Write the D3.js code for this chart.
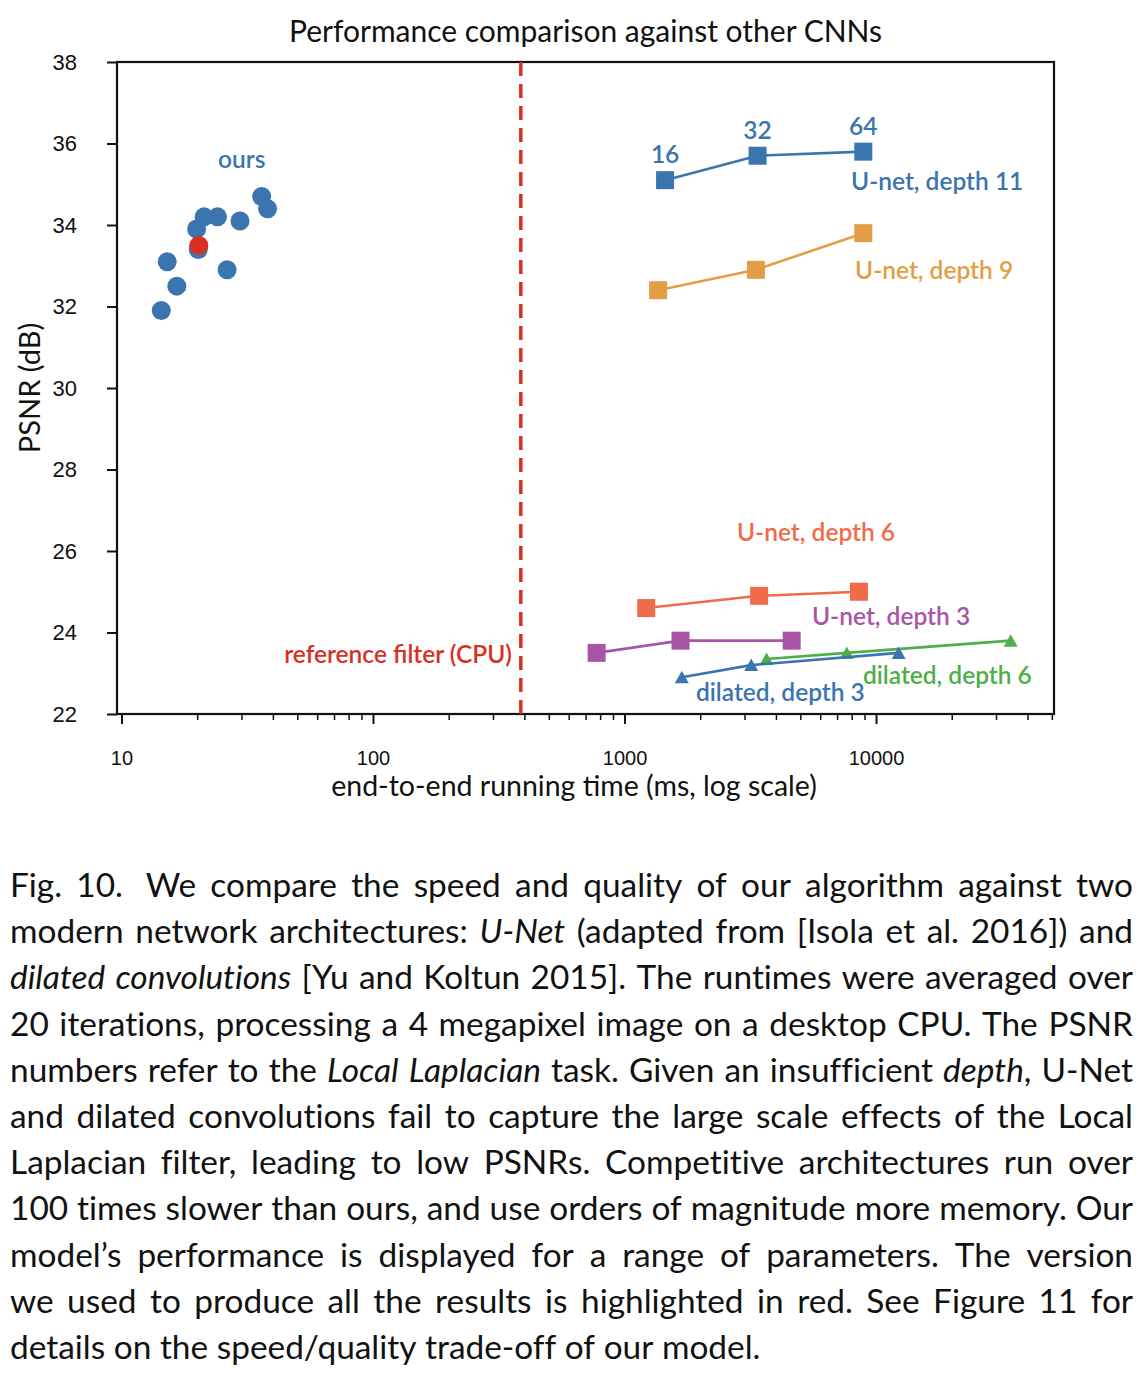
<!DOCTYPE html>
<html lang="en">
<head>
<meta charset="UTF-8">
<title>Performance comparison against other CNNs</title>
<script src="https://d3js.org/d3.v7.min.js"></script>
<style>
body { margin: 0; background: #fff; }
svg { font-family: Lato, "Open Sans", sans-serif; }
.tick text { fill: #111; }
.lbl { font-size: 24.5px; font-weight: 600; }
</style>
</head>
<body>
<svg id="chart" width="1144" height="1384"></svg>
<script>
// ours (bilateral grid variants), time in ms and PSNR in dB
const oursTime = [14.4, 15.2, 16.6, 19.9, 20.2, 21.3, 24.1, 26.3, 29.6, 36.1, 38.1];
const oursPsnr = [31.9, 33.1, 32.5, 33.9, 33.4, 34.2, 34.2, 32.9, 34.1, 34.7, 34.4];
const pickedTime = [20.3];
const pickedPsnr = [33.5];

const unet11Time = [1450, 3380, 8900];
const unet11Psnr = [35.1, 35.7, 35.8];
const unet9Time = [1360, 3330, 8900];
const unet9Psnr = [32.4, 32.9, 33.8];
const unet6Time = [1220, 3430, 8550];
const unet6Psnr = [24.6, 24.9, 25.0];
const unet3Time = [775, 1670, 4620];
const unet3Psnr = [23.5, 23.8, 23.8];
const dil3Time = [1690, 3190, 12300];
const dil3Psnr = [22.9, 23.2, 23.5];
const dil6Time = [3670, 7650, 34300];
const dil6Psnr = [23.35, 23.5, 23.8];

const widthLabels = ["16", "32", "64"];
const refTime = 387;

const yTicks = [22, 24, 26, 28, 30, 32, 34, 36, 38];
const xTicks = [10, 100, 1000, 10000];

// annotation anchors (data coords)
const annText = ["ours", "U-net, depth 11", "U-net, depth 9", "U-net, depth 6", "U-net, depth 3",
                 "dilated, depth 6", "dilated, depth 3", "reference filter (CPU)"];
const annTime = [30.1, 7955, 8250, 2800, 5565, 8870, 1923, 357];
const annPsnr = [35.4, 34.86, 32.67, 26.25, 24.18, 22.74, 22.32, 23.25];

const captionLines = [
  [["Fig. 10.  We compare the speed and quality of our algorithm against two", 0]],
  [["modern network architectures: ", 0], ["U-Net", 1], [" (adapted from [Isola et al. 2016]) and", 0]],
  [["dilated convolutions", 1], [" [Yu and Koltun 2015]. The runtimes were averaged over", 0]],
  [["20 iterations, processing a 4 megapixel image on a desktop CPU. The PSNR", 0]],
  [["numbers refer to the ", 0], ["Local Laplacian", 1], [" task. Given an insufficient ", 0], ["depth", 1], [", U-Net", 0]],
  [["and dilated convolutions fail to capture the large scale effects of the Local", 0]],
  [["Laplacian filter, leading to low PSNRs. Competitive architectures run over", 0]],
  [["100 times slower than ours, and use orders of magnitude more memory. Our", 0]],
  [["model\u2019s performance is displayed for a range of parameters. The version", 0]],
  [["we used to produce all the results is highlighted in red. See Figure 11 for", 0]],
  [["details on the speed/quality trade-off of our model.", 0]]
];

const blue = "#3a75b0", orange = "#e39e45", coral = "#ef6b4a", purple = "#a855a8",
      green = "#4daf4a", red = "#d7301f";

const svg = d3.select("#chart");
const margin = {left: 117, right: 90, top: 62, bottom: 670};
const W = 1144, H = 1384;
const plotW = W - margin.left - margin.right;
const plotH = H - margin.top - margin.bottom;

const x = d3.scaleLog().domain([9.6, 51000]).range([0, plotW]);
const y = d3.scaleLinear().domain([22, 38]).range([plotH, 0]);

const g = svg.append("g").attr("transform", `translate(${margin.left},${margin.top})`);

// title
svg.append("text").attr("x", margin.left + plotW / 2).attr("y", 42)
  .attr("text-anchor", "middle").style("font-size", "30px").attr("fill", "#111")
  .text("Performance comparison against other CNNs");

// axes
const minor = [];
for (let e = 1; e <= 4; e++) for (let k = 1; k <= 9; k++) {
  const v = k * Math.pow(10, e);
  if (v <= 51000 && k !== 1) minor.push(v);
}
g.append("g").attr("transform", `translate(0,${plotH})`)
  .call(d3.axisBottom(x).tickValues(minor).tickSize(6).tickFormat(""))
  .call(a => a.select(".domain").remove())
  .call(a => a.selectAll("line").attr("stroke", "#111").attr("stroke-width", 1.5));
g.append("g").attr("transform", `translate(0,${plotH})`)
  .call(d3.axisBottom(x).tickValues(xTicks).tickSize(10).tickPadding(27).tickFormat(d3.format("d")))
  .call(a => a.select(".domain").remove())
  .call(a => a.selectAll("text").style("font-size", "20px"))
  .call(a => a.selectAll("line").attr("stroke", "#111").attr("stroke-width", 2));
g.append("g")
  .call(d3.axisLeft(y).tickValues(yTicks).tickSize(10).tickPadding(30).tickFormat(d3.format("d")))
  .call(a => a.select(".domain").remove())
  .call(a => a.selectAll("text").style("font-size", "22px"))
  .call(a => a.selectAll("line").attr("stroke", "#111").attr("stroke-width", 2));

g.append("rect").attr("width", plotW).attr("height", plotH)
  .attr("fill", "none").attr("stroke", "#111").attr("stroke-width", 2.2);

svg.append("text").attr("x", 574).attr("y", 796)
  .attr("text-anchor", "middle").style("font-size", "28.5px").attr("fill", "#111")
  .text("end-to-end running time (ms, log scale)");
svg.append("text").attr("transform", `translate(40,${margin.top + plotH / 2}) rotate(-90)`)
  .attr("text-anchor", "middle").style("font-size", "29px").attr("fill", "#111")
  .text("PSNR (dB)");

// reference filter line
g.append("line").attr("x1", x(refTime)).attr("x2", x(refTime))
  .attr("y1", 0).attr("y2", plotH)
  .attr("stroke", red).attr("stroke-width", 3.5).attr("stroke-dasharray", "14,8");

// line series
const series = [
  {t: unet11Time, p: unet11Psnr, c: blue, m: "sq"},
  {t: unet9Time, p: unet9Psnr, c: orange, m: "sq"},
  {t: unet6Time, p: unet6Psnr, c: coral, m: "sq"},
  {t: unet3Time, p: unet3Psnr, c: purple, m: "sq"},
  {t: dil6Time, p: dil6Psnr, c: green, m: "tri"},
  {t: dil3Time, p: dil3Psnr, c: blue, m: "tri"}
];
const line = d3.line().x(d => x(d[0])).y(d => y(d[1]));
series.forEach(s => {
  const pts = s.t.map((t, i) => [t, s.p[i]]);
  g.append("path").datum(pts).attr("d", line)
    .attr("fill", "none").attr("stroke", s.c).attr("stroke-width", 2.6);
  if (s.m === "sq") {
    g.selectAll(null).data(pts).enter().append("rect")
      .attr("x", d => x(d[0]) - 9).attr("y", d => y(d[1]) - 9)
      .attr("width", 18).attr("height", 18).attr("fill", s.c);
  } else {
    g.selectAll(null).data(pts).enter().append("path")
      .attr("d", "M0,-6.5L7,6L-7,6Z")
      .attr("transform", d => `translate(${x(d[0])},${y(d[1])})`)
      .attr("fill", s.c);
  }
});

// ours scatter
g.selectAll(".ours").data(oursTime).enter().append("circle")
  .attr("cx", d => x(d)).attr("cy", (d, i) => y(oursPsnr[i]))
  .attr("r", 9.5).attr("fill", blue);
g.selectAll(".picked").data(pickedTime).enter().append("circle")
  .attr("cx", d => x(d)).attr("cy", (d, i) => y(pickedPsnr[i]))
  .attr("r", 9.5).attr("fill", red);

// width labels above U-net depth 11
g.selectAll(".wl").data(widthLabels).enter().append("text")
  .attr("class", "lbl").attr("text-anchor", "middle")
  .attr("x", (d, i) => x(unet11Time[i])).attr("y", (d, i) => y(unet11Psnr[i]) - 17)
  .attr("fill", blue).text(d => d);

// annotations
const annColor = [blue, blue, orange, coral, purple, green, blue, red];
const annAnchor = ["middle", "start", "start", "start", "start", "start", "start", "end"];
annText.forEach((t, i) => {
  g.append("text").attr("class", "lbl")
    .attr("x", x(annTime[i])).attr("y", y(annPsnr[i]))
    .attr("text-anchor", annAnchor[i]).attr("fill", annColor[i]).text(t);
});

// caption, justified word by word
const cap = svg.append("g").attr("fill", "#111").style("font-variant-ligatures", "none");
const capLeft = 10, capRight = 1133, capTop = 897, capStep = 46.2;
const probe = cap.append("text").attr("x", -1000).attr("y", -1000).style("font-size", "30px");
function wordWidth(w, it) {
  probe.style("font-style", it ? "italic" : "normal").text(w);
  return probe.node().getComputedTextLength();
}
// fit the font so the short last line is a little narrower than the printed one
const capSize = 30 * 748 / wordWidth(captionLines[captionLines.length - 1][0][0], 0);
cap.style("font-size", capSize + "px");
probe.style("font-size", capSize + "px");
const spaceW = wordWidth("a a", 0) - wordWidth("aa", 0);
captionLines.forEach((segs, li) => {
  const words = [];
  let cur = null;
  segs.forEach(([txt, it]) => {
    txt.split(/( +)/).forEach(p => {
      if (p === "") return;
      if (/^ +$/.test(p)) { if (cur) words.push(cur); cur = null; return; }
      if (!cur) cur = {pieces: []};
      cur.pieces.push([p, it]);
    });
  });
  if (cur) words.push(cur);
  words.forEach(w => w.width = d3.sum(w.pieces, p => wordWidth(p[0], p[1])));
  const last = li === captionLines.length - 1;
  const total = d3.sum(words, w => w.width);
  const gap = last ? spaceW : (capRight - capLeft - total - (li === 0 ? spaceW : 0)) / (words.length - 1);
  const text = cap.append("text").attr("y", capTop + li * capStep);
  let xp = capLeft;
  words.forEach((w, wi) => {
    w.pieces.forEach((p, pi) => {
      const tail = wi < words.length - 1 && pi === w.pieces.length - 1 ? " " : "";
      text.append("tspan").attr("x", xp).style("font-style", p[1] ? "italic" : "normal")
        .text(p[0] + tail);
      xp += wordWidth(p[0], p[1]);
    });
    xp += gap + (li === 0 && wi === 1 ? spaceW : 0);
  });
});
probe.remove();
</script>
</body>
</html>
